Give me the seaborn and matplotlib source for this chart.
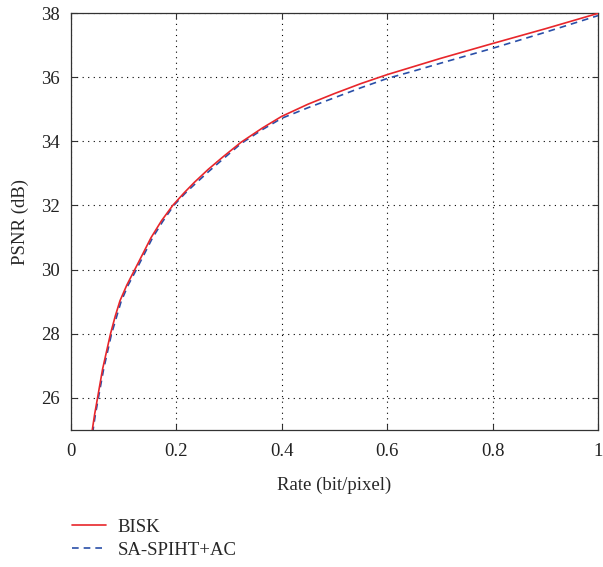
import matplotlib
matplotlib.use("Agg")
import matplotlib.pyplot as plt
import seaborn as sns
import pandas as pd

rate_bisk = [0.0395, 0.045, 0.0504, 0.060, 0.075, 0.084, 0.093, 0.106, 0.121, 0.135, 0.152, 0.172, 0.193,
             0.215, 0.234, 0.26, 0.288, 0.3226, 0.3636, 0.4, 0.45, 0.5, 0.55, 0.6, 0.65, 0.7, 0.8, 0.9, 1.0]
psnr_bisk = [24.9, 25.5, 26.0, 26.9, 28.0, 28.55, 29.03, 29.52, 30.0, 30.45, 31.0, 31.53, 32.0,
             32.4, 32.72, 33.12, 33.51, 33.97, 34.42, 34.78, 35.16, 35.49, 35.8, 36.08, 36.33, 36.58,
             37.05, 37.51, 37.99]
rate_sa = [0.0410, 0.046, 0.052, 0.062, 0.077, 0.086, 0.095, 0.108, 0.124, 0.138, 0.155, 0.174, 0.195,
           0.216, 0.236, 0.262, 0.290, 0.3226, 0.3636, 0.4, 0.45, 0.5, 0.55, 0.6, 0.65, 0.7, 0.8, 0.9, 1.0]
psnr_sa = [24.9, 25.45, 26.0, 26.9, 28.0, 28.5, 29.0, 29.5, 30.0, 30.45, 31.0, 31.5, 32.0,
           32.37, 32.68, 33.07, 33.47, 33.93, 34.37, 34.72, 35.05, 35.36, 35.67, 35.96, 36.19, 36.43,
           36.9, 37.4, 37.92]

xticks = [0, 0.2, 0.4, 0.6, 0.8, 1]
yticks = [26, 28, 30, 32, 34, 36, 38]

sns.set_style("ticks")
plt.rcParams['font.family'] = ['Liberation Serif', 'DejaVu Serif']
plt.rcParams['font.size'] = 13.5

fig = plt.figure(figsize=(6.03, 5.67), dpi=100)
ax = fig.add_axes([0.1177, 0.2416, 0.8740, 0.7354])

df_b = pd.DataFrame({"Rate": rate_bisk, "PSNR": psnr_bisk})
df_s = pd.DataFrame({"Rate": rate_sa, "PSNR": psnr_sa})
sns.lineplot(data=df_b, x="Rate", y="PSNR", ax=ax, color="#e8262b", lw=1.2, label="BISK", zorder=3)
sns.lineplot(data=df_s, x="Rate", y="PSNR", ax=ax, color="#2a4fa8", lw=1.2, linestyle=(0, (4, 3)),
             label="SA-SPIHT+AC", zorder=2)

ax.set_xlim(0, 1)
ax.set_ylim(25, 38)
ax.set_xticks(xticks)
ax.set_xticklabels([f"{t:g}" for t in xticks])
ax.set_yticks(yticks)
ax.grid(True, color="black", linestyle=(0, (1, 4)), linewidth=0.8)
ax.tick_params(direction="in", top=True, right=True, length=4, width=0.8, colors="#333333",
               labelcolor="#222222")
ax.tick_params(axis="x", pad=9)
ax.tick_params(axis="y", pad=8)
for s in ax.spines.values():
    s.set_linewidth(0.9)
    s.set_color("#333333")
ax.set_xlabel("Rate (bit/pixel)", labelpad=12.5)
ax.set_ylabel("PSNR (dB)", labelpad=9)

leg = ax.legend(loc="upper left", bbox_to_anchor=(-0.0127, -0.195), frameon=False,
                handlelength=1.85, handletextpad=0.6, labelspacing=0.3, borderaxespad=0)
fig.savefig("out.png", dpi=100)
